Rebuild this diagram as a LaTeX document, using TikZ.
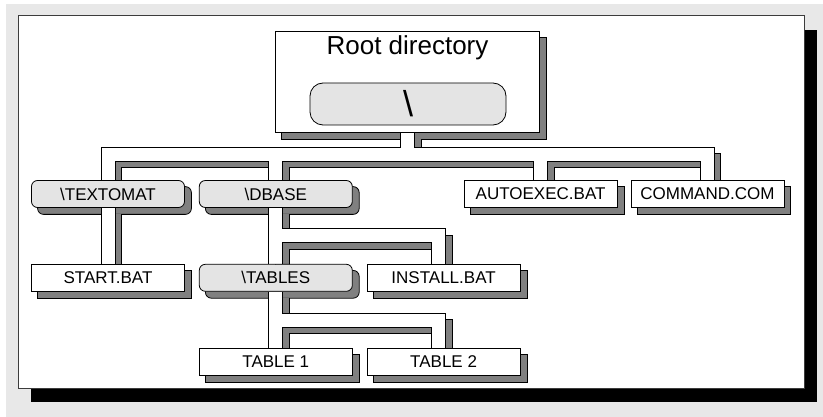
\documentclass[tikz,border=0pt]{standalone}
\usepackage{fontspec}
\setmainfont{Liberation Sans}
\usetikzlibrary{positioning,calc}
\definecolor{pagegray}{RGB}{232,232,232}
\definecolor{shadegray}{RGB}{128,128,128}
\definecolor{foldergray}{RGB}{228,228,228}
\definecolor{frameedge}{RGB}{60,60,60}
\pgfdeclarelayer{paper}
\pgfdeclarelayer{shade}
\pgfdeclarelayer{pipes}
\pgfsetlayers{paper,shade,pipes,main}
\newcommand{\boxfont}{\fontsize{17pt}{20pt}\selectfont}
\newcommand{\titlefont}{\fontsize{26pt}{30pt}\selectfont}
\newcommand{\slashfont}{\fontsize{36pt}{40pt}\selectfont}
% the directory tree, as centre lines of the pipes
\newcommand{\treepipes}{%
  (textomat.north) |- (bus1) -| (command.north)
  (root.south) -- (bus1)
  (dbase.north) -- (dbase.north |- bus1)
  (autoexec.north) -- (autoexec.north |- bus1)
  (textomat.south) -- (startbat.north)
  (dbase.south) -- (tables.north)
  (bus2) -| ([xshift=-5pt]installbat.north)
  (tables.south) -- (table1.north)
  (bus3) -| ([xshift=-5pt]table2.north)}

\begin{document}
\begin{tikzpicture}[
    x=1pt, y=1pt,
    node distance=56pt,
    filebox/.style={rectangle, draw, fill=white, line width=0.8pt, minimum width=153pt, minimum height=27pt, inner sep=2pt, font=\boxfont},
    folder/.style={filebox, fill=foldergray, rounded corners=6pt},
    rootbox/.style={rectangle, draw, fill=white, line width=0.8pt, minimum width=264pt, minimum height=101pt},
    shadebox/.style={fill=shadegray, draw=black, line width=0.8pt},
    pipeedge/.style={draw=black, line width=15pt},
    pipefill/.style={draw=white, line width=13pt},
    pipeshade/.style={draw=shadegray, line width=13pt}
]
\useasboundingbox (0,0) rectangle (823,-417);

% Root
\node[rootbox] (root) at (407.5,-82) {};
\node[anchor=base, font=\titlefont] (roottitle) at (407.5,-55) {Root directory};
\node[folder, minimum width=196pt, minimum height=42pt, rounded corners=13pt, font=\slashfont] (rootslash) at (408,-104) {\textbackslash};

% Directories and files
\node[folder] (textomat) at (108,-194) {\textbackslash TEXTOMAT};
\node[folder, right=14pt of textomat] (dbase) {\textbackslash DBASE};
\node[filebox, right=111pt of dbase] (autoexec) {AUTOEXEC.BAT};
\node[filebox, right=13pt of autoexec] (command) {COMMAND.COM};
\node[filebox, below=of textomat] (startbat) {START.BAT};
\node[folder, below=of dbase] (tables) {\textbackslash TABLES};
\node[filebox, right=14pt of tables] (installbat) {INSTALL.BAT};
\node[filebox, below=of tables] (table1) {TABLE 1};
\node[filebox, right=14pt of table1] (table2) {TABLE 2};

% Branch points
\coordinate (bus1) at ($(root.south)+(0,-21.5)$);
\coordinate (bus2) at ($(dbase.south)+(0,-28)$);
\coordinate (bus3) at ($(tables.south)+(0,-28.5)$);

% Frame
\begin{pgfonlayer}{paper}
  \fill[pagegray] (6,-4) rectangle (823,-417);
  \fill[black] (31,-30) rectangle (817,-402);
  \draw[frameedge, fill=white, line width=1pt] (18,-16) rectangle (804,-388);
\end{pgfonlayer}

% Shadows
\begin{pgfonlayer}{shade}
  \foreach \n/\r in {root/0,textomat/6,dbase/6,tables/6,autoexec/0,command/0,startbat/0,installbat/0,table1/0,table2/0}
    \draw[shadebox, rounded corners=\r pt] ([shift={(6.5,-6.5)}]\n.south west) rectangle ([shift={(6.5,-6.5)}]\n.north east);
  \begin{scope}[transform canvas={shift={(6.5pt,-6.5pt)}}]
    \draw[pipeedge] \treepipes;
    \draw[pipeshade] \treepipes;
  \end{scope}
\end{pgfonlayer}

% Pipes
\begin{pgfonlayer}{pipes}
  \draw[pipeedge] \treepipes;
  \draw[pipefill] \treepipes;
\end{pgfonlayer}

\end{tikzpicture}
\end{document}
